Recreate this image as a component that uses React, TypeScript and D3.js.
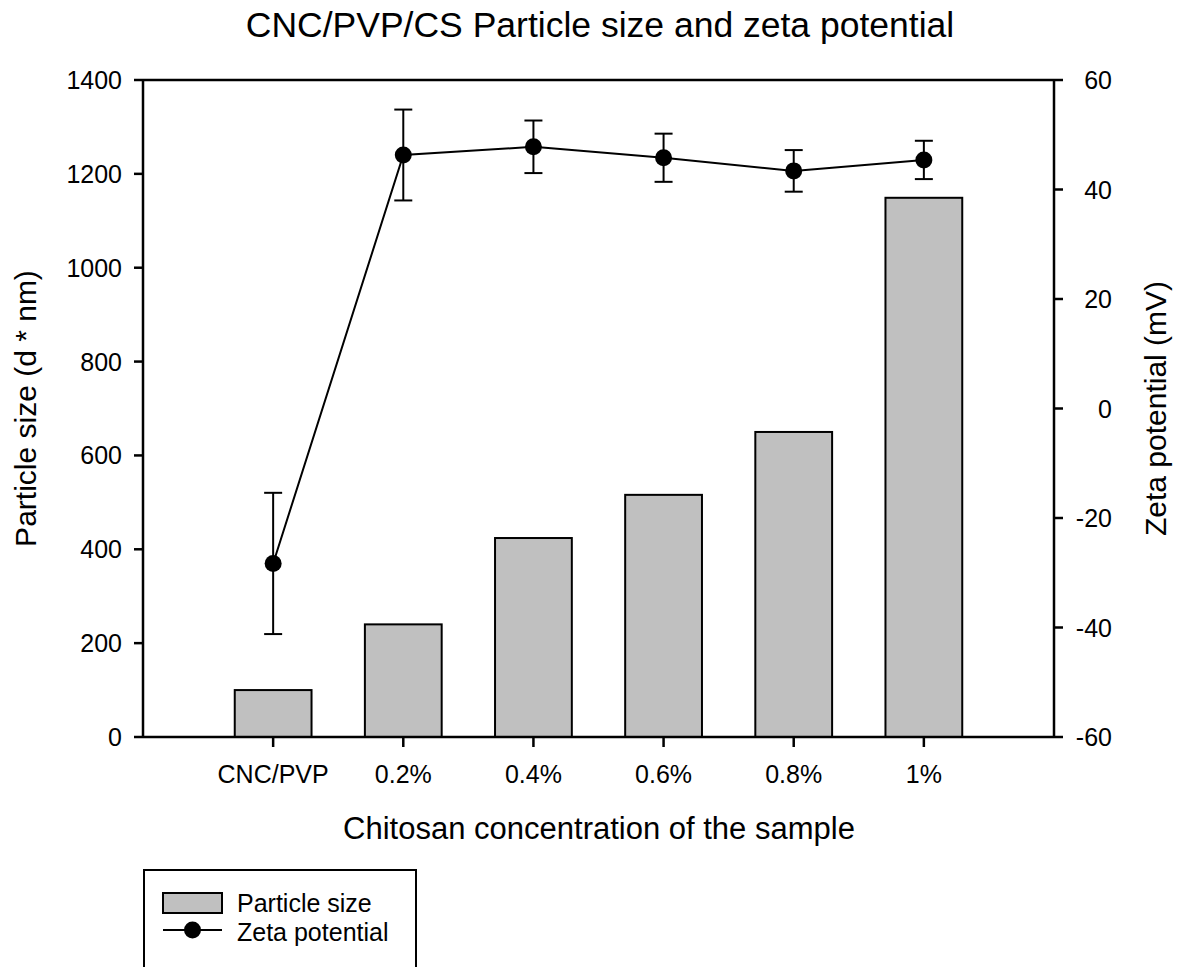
import React from "react";
import * as d3 from "d3";

const categories = ["CNC/PVP", "0.2%", "0.4%", "0.6%", "0.8%", "1%"];
const particleSize = [100, 240, 424, 516, 650, 1149];
const zetaPotential = [-28.3, 46.3, 47.8, 45.8, 43.4, 45.4];
const zetaError = [12.9, 8.3, 4.8, 4.4, 3.8, 3.5];
const leftTicks = [0, 200, 400, 600, 800, 1000, 1200, 1400];
const rightTicks = [-60, -40, -20, 0, 20, 40, 60];

const W = 1179;
const H = 967;
const L = 143;
const R = 1054;
const T = 80;
const B = 737;
const FONT = "'Liberation Sans', Arial, sans-serif";

export default function App() {
  const x = d3.scalePoint<string>().domain(categories).range([L, R]).padding(1);
  const step = x.step();
  const yL = d3.scaleLinear().domain([0, 1400]).range([B, T]);
  const yR = d3.scaleLinear().domain([-60, 60]).range([B, T]);
  const barW = step * 0.59;
  const line = d3
    .line<number>()
    .x((_, i) => x(categories[i]) as number)
    .y((d) => yR(d));

  return (
    <svg
      width={W}
      height={H}
      style={{ position: "absolute", left: 0, top: 0, background: "#fff" }}
      fontFamily={FONT}
    >
      <rect x={0} y={0} width={W} height={H} fill="#fff" />
      <text x={600} y={37} fontSize={35.5} textAnchor="middle" fill="#000">
        CNC/PVP/CS Particle size and zeta potential
      </text>

      {/* bars */}
      {particleSize.map((v, i) => (
        <rect
          key={i}
          x={(x(categories[i]) as number) - barW / 2}
          y={yL(v)}
          width={barW}
          height={B - yL(v)}
          fill="#c0c0c0"
          stroke="#000"
          strokeWidth={2}
        />
      ))}

      {/* frame */}
      <line x1={L} x2={R} y1={T} y2={T} stroke="#000" strokeWidth={2.5} />
      <line x1={L} x2={R} y1={B} y2={B} stroke="#000" strokeWidth={2.5} />
      <line x1={L} x2={L} y1={T} y2={B} stroke="#000" strokeWidth={2.5} />
      <line x1={R} x2={R} y1={T} y2={B} stroke="#000" strokeWidth={2.5} />

      {/* left ticks */}
      {leftTicks.map((t) => (
        <g key={"l" + t}>
          <line x1={L - 9} x2={L} y1={yL(t)} y2={yL(t)} stroke="#000" strokeWidth={2.5} />
          <text x={L - 21} y={yL(t)} dy="0.36em" fontSize={25} textAnchor="end">
            {t}
          </text>
        </g>
      ))}

      {/* right ticks */}
      {rightTicks.map((t) => (
        <g key={"r" + t}>
          <line x1={R} x2={R + 9} y1={yR(t)} y2={yR(t)} stroke="#000" strokeWidth={2.5} />
          <text x={R + 58} y={yR(t)} dy="0.36em" fontSize={25} textAnchor="end">
            {t}
          </text>
        </g>
      ))}

      {/* x ticks */}
      {categories.map((c) => (
        <g key={c}>
          <line x1={x(c)} x2={x(c)} y1={B} y2={B + 10} stroke="#000" strokeWidth={2.5} />
          <text x={x(c)} y={783} fontSize={25} textAnchor="middle">
            {c}
          </text>
        </g>
      ))}

      {/* axis titles */}
      <text x={599} y={839} fontSize={31} textAnchor="middle">
        Chitosan concentration of the sample
      </text>
      <text
        transform={`translate(36,${(T + B) / 2}) rotate(-90)`}
        fontSize={30}
        textAnchor="middle"
      >
        Particle size (d * nm)
      </text>
      <text
        transform={`translate(1166,${(T + B) / 2}) rotate(-90)`}
        fontSize={30}
        textAnchor="middle"
      >
        Zeta potential (mV)
      </text>

      {/* zeta line */}
      <path d={line(zetaPotential) || ""} fill="none" stroke="#000" strokeWidth={2} />
      {zetaPotential.map((v, i) => {
        const cx = x(categories[i]) as number;
        const y1 = yR(v + zetaError[i]);
        const y2 = yR(v - zetaError[i]);
        return (
          <g key={"z" + i}>
            <line x1={cx} x2={cx} y1={y1} y2={y2} stroke="#000" strokeWidth={2} />
            <line x1={cx - 9} x2={cx + 9} y1={y1} y2={y1} stroke="#000" strokeWidth={2} />
            <line x1={cx - 9} x2={cx + 9} y1={y2} y2={y2} stroke="#000" strokeWidth={2} />
            <circle cx={cx} cy={yR(v)} r={8.5} fill="#000" />
          </g>
        );
      })}

      {/* legend */}
      <rect x={144} y={870} width={272} height={130} fill="none" stroke="#000" strokeWidth={2} />
      <rect x={163} y={893} width={59} height={20} fill="#c0c0c0" stroke="#000" strokeWidth={2} />
      <text x={237} y={912} fontSize={25}>
        Particle size
      </text>
      <line x1={163} x2={222} y1={930} y2={930} stroke="#000" strokeWidth={2} />
      <circle cx={192.5} cy={930} r={8.5} fill="#000" />
      <text x={237} y={941} fontSize={25}>
        Zeta potential
      </text>
    </svg>
  );
}
